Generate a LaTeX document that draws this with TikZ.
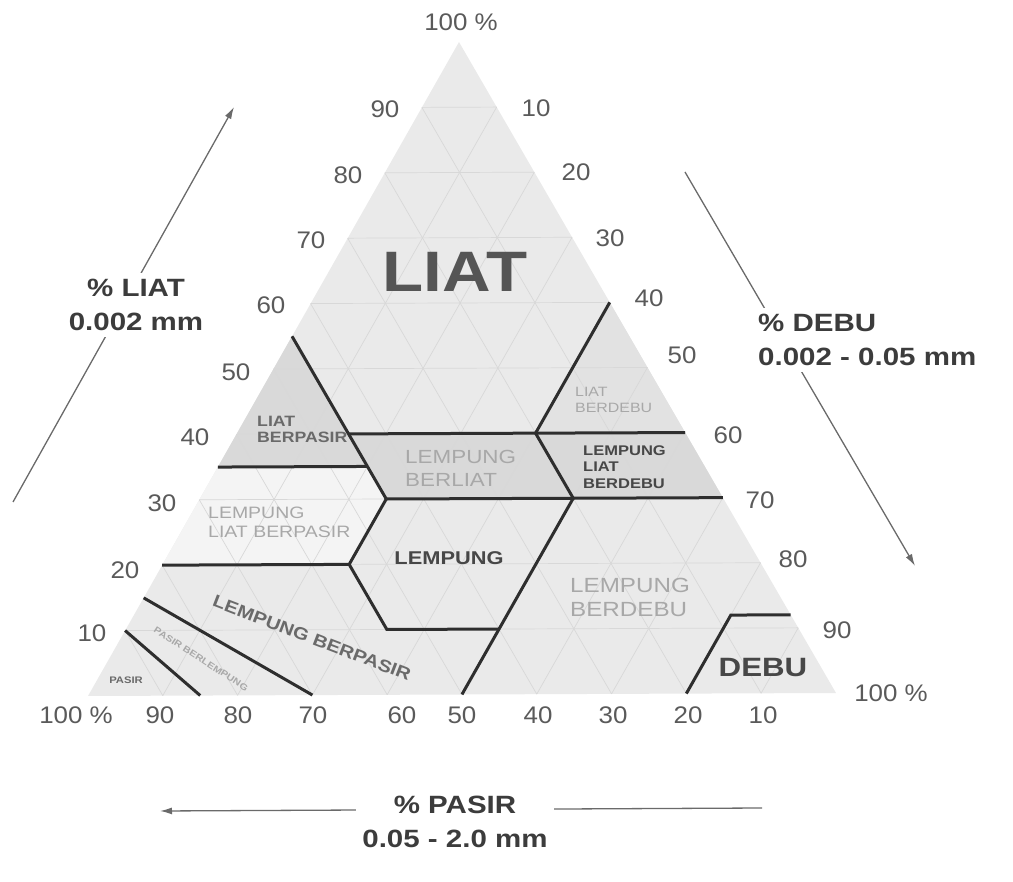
\documentclass[tikz,border=0pt]{standalone}
\usepackage{fontspec}
\setmainfont{Liberation Sans}[FakeStretch=1.18]
\newfontfamily\numfont{Liberation Sans}[FakeStretch=1.08]
\usetikzlibrary{arrows.meta}

\definecolor{soil}{HTML}{EAEAEA}
\definecolor{soildark}{HTML}{D9D9D9}
\definecolor{soilmid}{HTML}{E2E2E2}
\definecolor{soillight}{HTML}{F4F4F4}
\definecolor{gridgray}{HTML}{D8D8D8}
\definecolor{linegray}{HTML}{2E2E2E}
\definecolor{numgray}{HTML}{5A5A5A}
\definecolor{axisgray}{HTML}{3C3C3C}
\definecolor{palegray}{HTML}{A8A8A8}
\definecolor{darkgray}{HTML}{474747}
\definecolor{midgray}{HTML}{6A6A6A}
\definecolor{biggray}{HTML}{555555}

\newcommand{\ukuran}[2]{\fontsize{#1}{#2}\selectfont}

\begin{document}
\begin{tikzpicture}[x=1pt,y=-1pt,
  tickno/.style={text=numgray, font=\numfont\ukuran{24}{24}, inner sep=0pt},
  axistxt/.style={text=axisgray, font=\bfseries\ukuran{25}{34}, align=center, fill=white, inner sep=6pt},
  axisarrow/.style={draw=midgray, line width=1.3pt, -{Latex[length=12pt,width=7pt]}},
  gridline/.style={draw=gridgray, line width=0.7pt},
  border/.style={draw=linegray, line width=3pt},
  zone/.style={align=left, inner sep=0pt}
]
\useasboundingbox (0,0) rectangle (1013,882);

% corners of the triangle
\coordinate (P) at (88,696);   % 100 % pasir
\coordinate (D) at (836,693);  % 100 % debu
\coordinate (L) at (459,42);   % 100 % liat

% points on the class borders (weights in tens of %)
\coordinate (a1) at (barycentric cs:P=4.5,D=0,L=5.5);
\coordinate (a2) at (barycentric cs:P=4.5,D=1.5,L=4);
\coordinate (a3) at (barycentric cs:P=4.5,D=2,L=3.5);
\coordinate (a4) at (barycentric cs:P=4.5,D=2.5,L=3);
\coordinate (b1) at (barycentric cs:P=6.5,D=0,L=3.5);
\coordinate (b2) at (barycentric cs:P=8,D=0,L=2);
\coordinate (b3) at (barycentric cs:P=5.5,D=2.5,L=2);
\coordinate (b4) at (barycentric cs:P=5.5,D=3.5,L=1);
\coordinate (b5) at (barycentric cs:P=4,D=5,L=1);
\coordinate (b6) at (barycentric cs:P=5,D=5,L=0);
\coordinate (c1) at (barycentric cs:P=0,D=4,L=6);
\coordinate (c2) at (barycentric cs:P=2,D=4,L=4);
\coordinate (c3) at (barycentric cs:P=2,D=5,L=3);
\coordinate (c4) at (barycentric cs:P=0,D=6,L=4);
\coordinate (c5) at (barycentric cs:P=0,D=7,L=3);
\coordinate (d1) at (barycentric cs:P=2,D=8,L=0);
\coordinate (d2) at (barycentric cs:P=0.8,D=8,L=1.2);
\coordinate (d3) at (barycentric cs:P=0,D=8.8,L=1.2);
\coordinate (e1) at (barycentric cs:P=8.5,D=0,L=1.5);
\coordinate (e2) at (barycentric cs:P=7,D=3,L=0);
\coordinate (f1) at (barycentric cs:P=9,D=0,L=1);
\coordinate (f2) at (barycentric cs:P=8.5,D=1.5,L=0);

% shading
\fill[soil] (P) -- (D) -- (L) -- cycle;
\fill[soildark] (a1) -- (a2) -- (a3) -- (b1) -- cycle;
\fill[soildark] (a2) -- (c2) -- (c3) -- (a4) -- (a3) -- cycle;
\fill[soildark] (c2) -- (c4) -- (c5) -- (c3) -- cycle;
\fill[soilmid] (c1) -- (c4) -- (c2) -- cycle;
\fill[soillight] (b1) -- (a3) -- (a4) -- (b3) -- (b2) -- cycle;

% grid every 10 %
\foreach \i [evaluate=\i as \j using int(10-\i)] in {1,...,9} {
  \draw[gridline] (barycentric cs:P=\j,L=\i) -- (barycentric cs:D=\j,L=\i);
  \draw[gridline] (barycentric cs:P=\j,D=\i) -- (barycentric cs:L=\j,D=\i);
  \draw[gridline] (barycentric cs:D=\j,P=\i) -- (barycentric cs:L=\j,P=\i);
}

% class borders
\draw[border] (a1) -- (a2) -- (a3) -- (a4);
\draw[border] (b1) -- (a3);
\draw[border] (a2) -- (c2) -- (c4);
\draw[border] (c1) -- (c2) -- (c3);
\draw[border] (a4) -- (c3) -- (c5);
\draw[border] (b2) -- (b3) -- (a4);
\draw[border] (b3) -- (b4) -- (b5);
\draw[border] (c3) -- (b5) -- (b6);
\draw[border] (d1) -- (d2) -- (d3);
\draw[border] (e1) -- (e2);
\draw[border] (f1) -- (f2);

% class names
\node[text=biggray, font=\bfseries\ukuran{57}{60}] (nliat) at (455,272) {LIAT};
\node[zone, text=midgray, font=\bfseries\ukuran{15}{16}, anchor=west] (nlbp) at (257,429) {LIAT\\BERPASIR};
\node[zone, text=palegray, font=\ukuran{19}{23}, anchor=west] (nlbl) at (405,468) {LEMPUNG\\BERLIAT};
\node[zone, text=palegray, font=\ukuran{16.5}{19}, anchor=west] (nllbp) at (208,522) {LEMPUNG\\LIAT BERPASIR};
\node[text=darkgray, font=\bfseries\ukuran{18.5}{20}] (nlmp) at (449,558) {LEMPUNG};
\node[text=midgray, font=\bfseries\ukuran{17.2}{19}, rotate=-21] (nlbps) at (312,638) {LEMPUNG BERPASIR};
\node[text=palegray, font=\bfseries\ukuran{9}{10}, rotate=-33] (npbl) at (201,659) {PASIR BERLEMPUNG};
\node[text=midgray, font=\bfseries\ukuran{9.5}{10}] (npsr) at (126,680) {PASIR};
\node[zone, text=palegray, font=\ukuran{13.5}{16}, anchor=west] (nlbd) at (575,400) {LIAT\\BERDEBU};
\node[zone, text=darkgray, font=\bfseries\ukuran{14}{16.5}, anchor=west] (nllbd) at (583,467) {LEMPUNG\\LIAT\\BERDEBU};
\node[zone, text=palegray, font=\ukuran{20.5}{24}, anchor=west] (nlbdb) at (570,597) {LEMPUNG\\BERDEBU};
\node[text=darkgray, font=\bfseries\ukuran{26.5}{28}] (ndbu) at (763,668) {DEBU};

% scale numbers
\node[tickno] (ltop) at (461,22) {100 \%};
\foreach \t/\x/\y in {90/385/109, 80/348/175, 70/311/240, 60/271/305, 50/236/372,
    40/195/437, 30/162/503, 20/125/570, 10/92/633}
  \node[tickno] (l\t) at (\x,\y) {\t};
\foreach \t/\x/\y in {10/536/108, 20/576/172, 30/610/238, 40/649/298, 50/682/355,
    60/728/435, 70/760/500, 80/793/559, 90/837/630}
  \node[tickno] (r\t) at (\x,\y) {\t};
\node[tickno] (rbot) at (891,693) {100 \%};
\node[tickno] (bleft) at (76,715) {100 \%};
\foreach \t/\x in {90/160, 80/238, 70/313, 60/402, 50/462, 40/538, 30/613, 20/688, 10/763}
  \node[tickno] (b\t) at (\x,715) {\t};

% axis arrows and titles
\coordinate (liat0) at (13,502);
\coordinate (liat1) at (234,107);
\draw[axisarrow] (liat0) -- (liat1);
\node[axistxt] (liattxt) at (136,305) {\% LIAT\\0.002 mm};

\coordinate (debu0) at (685,172);
\coordinate (debu1) at (915,566);
\draw[axisarrow] (debu0) -- (debu1);
\node[axistxt, align=left, anchor=west] (debutxt) at (752,340) {\% DEBU\\0.002 - 0.05 mm};

\coordinate (pasir0) at (762,808);
\coordinate (pasir1) at (160,811);
\draw[axisarrow] (pasir0) -- (pasir1);
\node[axistxt] (pasirtxt) at (455,822) {\% PASIR\\0.05 - 2.0 mm};

\end{tikzpicture}
\end{document}
